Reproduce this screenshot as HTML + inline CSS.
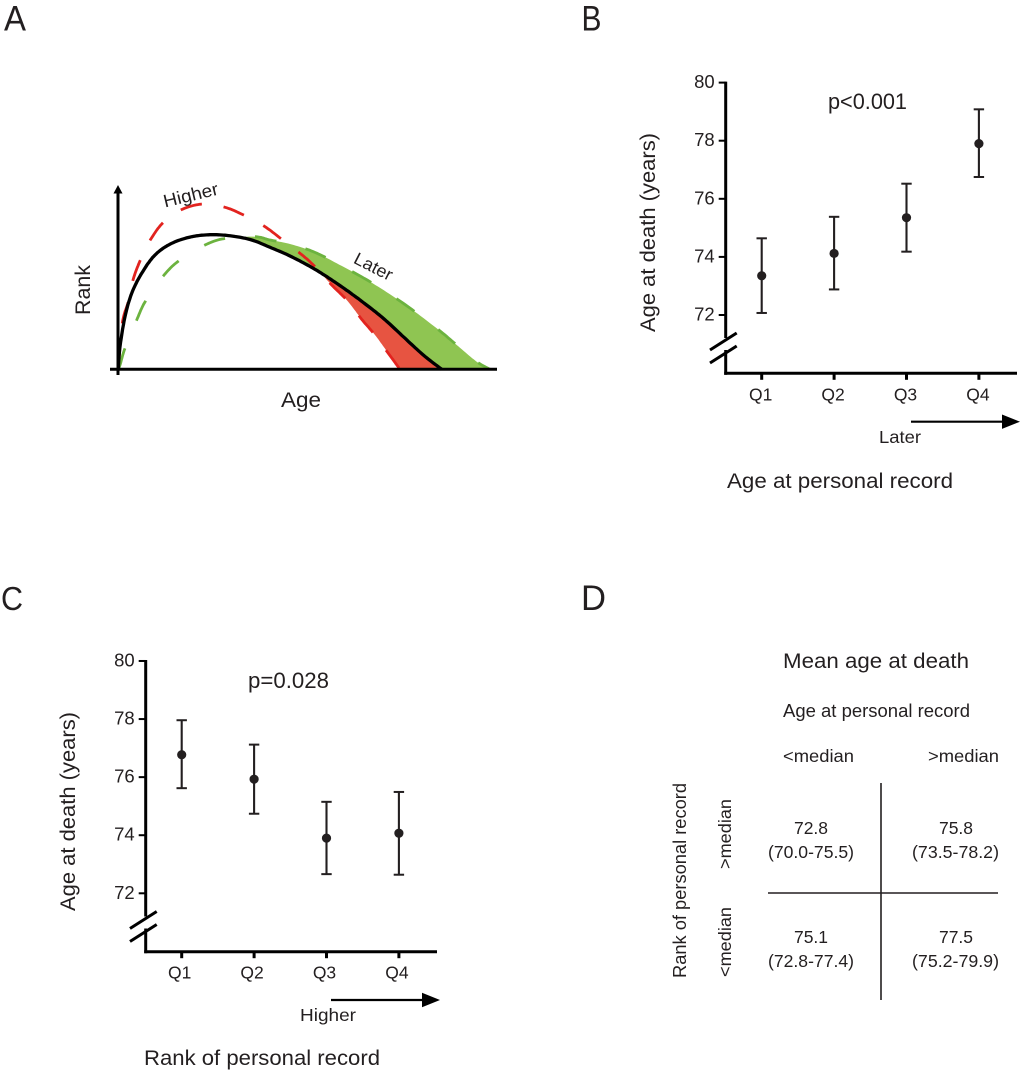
<!DOCTYPE html>
<html lang="en">
<head>
<meta charset="utf-8">
<title>Age at personal record, rank and age at death</title>
<style>
html,body{margin:0;padding:0;background:#fff;width:1020px;height:1072px;overflow:hidden}
svg{display:block}
text{font-family:"Liberation Sans",sans-serif;fill:#231f20}
</style>
</head>
<body>
<svg id="figure" xmlns="http://www.w3.org/2000/svg" width="1020" height="1072" viewBox="0 0 1020 1072">
  <rect width="1020" height="1072" fill="#fff"/>

  <text x="4" y="30.5" font-size="35" textLength="22" lengthAdjust="spacingAndGlyphs">A</text>
  <text x="581.5" y="30.5" font-size="35" textLength="20" lengthAdjust="spacingAndGlyphs">B</text>
  <text x="1" y="610" font-size="33" textLength="22" lengthAdjust="spacingAndGlyphs">C</text>
  <text x="581" y="610" font-size="35" textLength="25" lengthAdjust="spacingAndGlyphs">D</text>

  <g id="panel-a"></g>
  <text transform="translate(90 315) rotate(-90)" font-size="21" textLength="50" lengthAdjust="spacingAndGlyphs">Rank</text>
  <text x="281" y="407" font-size="21" textLength="40" lengthAdjust="spacingAndGlyphs">Age</text>
  <text transform="translate(165 207.5) rotate(-13.6)" font-size="18" textLength="56" lengthAdjust="spacingAndGlyphs">Higher</text>
  <text transform="translate(352.5 262.5) rotate(27)" font-size="17.5" textLength="41" lengthAdjust="spacingAndGlyphs">Later</text>

  <g id="panel-b"></g>
  <text transform="translate(655 332) rotate(-90)" font-size="21" textLength="199" lengthAdjust="spacingAndGlyphs">Age at death (years)</text>
  <text x="828" y="109" font-size="22" textLength="79" lengthAdjust="spacingAndGlyphs">p&lt;0.001</text>
  <text x="879" y="443" font-size="17.5" textLength="42" lengthAdjust="spacingAndGlyphs">Later</text>
  <text x="727" y="488" font-size="21.5" textLength="226" lengthAdjust="spacingAndGlyphs">Age at personal record</text>
  <line x1="911" y1="421.7" x2="1004" y2="421.7" stroke="#000" stroke-width="2.2"/>
  <polygon points="1002,414.5 1020,421.7 1002,428.9" fill="#000"/>

  <g id="panel-c"></g>
  <text transform="translate(75 911) rotate(-90)" font-size="21" textLength="199" lengthAdjust="spacingAndGlyphs">Age at death (years)</text>
  <text x="248" y="688" font-size="22" textLength="81" lengthAdjust="spacingAndGlyphs">p=0.028</text>
  <text x="300" y="1021" font-size="17.5" textLength="56" lengthAdjust="spacingAndGlyphs">Higher</text>
  <text x="144" y="1065" font-size="21.5" textLength="236" lengthAdjust="spacingAndGlyphs">Rank of personal record</text>
  <line x1="331" y1="1000" x2="424" y2="1000" stroke="#000" stroke-width="2.2"/>
  <polygon points="422,992.8 440,1000 422,1007.2" fill="#000"/>

  <g>
    <text x="783" y="668" font-size="21.5" textLength="186" lengthAdjust="spacingAndGlyphs">Mean age at death</text>
    <text x="783" y="717" font-size="18.5" textLength="187" lengthAdjust="spacingAndGlyphs">Age at personal record</text>
    <text x="783" y="762" font-size="17.5" textLength="71" lengthAdjust="spacingAndGlyphs">&lt;median</text>
    <text x="928" y="762" font-size="17.5" textLength="71" lengthAdjust="spacingAndGlyphs">&gt;median</text>
    <text transform="translate(686 978) rotate(-90)" font-size="18.5" textLength="195" lengthAdjust="spacingAndGlyphs">Rank of personal record</text>
    <text transform="translate(731 869) rotate(-90)" font-size="17.5" textLength="70" lengthAdjust="spacingAndGlyphs">&gt;median</text>
    <text transform="translate(731 977) rotate(-90)" font-size="17.5" textLength="70" lengthAdjust="spacingAndGlyphs">&lt;median</text>
    <line x1="881" y1="783" x2="881" y2="1000" stroke="#231f20" stroke-width="1.6"/>
    <line x1="768" y1="893" x2="998" y2="893" stroke="#231f20" stroke-width="1.6"/>
    <text x="811" y="834" font-size="17.5" text-anchor="middle">72.8</text>
    <text x="768" y="858" font-size="17.5" textLength="86" lengthAdjust="spacingAndGlyphs">(70.0-75.5)</text>
    <text x="956" y="834" font-size="17.5" text-anchor="middle">75.8</text>
    <text x="912" y="858" font-size="17.5" textLength="87" lengthAdjust="spacingAndGlyphs">(73.5-78.2)</text>
    <text x="811" y="943" font-size="17.5" text-anchor="middle">75.1</text>
    <text x="768" y="967" font-size="17.5" textLength="86" lengthAdjust="spacingAndGlyphs">(72.8-77.4)</text>
    <text x="956" y="943" font-size="17.5" text-anchor="middle">77.5</text>
    <text x="912" y="967" font-size="17.5" textLength="87" lengthAdjust="spacingAndGlyphs">(75.2-79.9)</text>
  </g>
</svg>

<script>
// Shared axis data
const tickValues = [72, 74, 76, 78, 80];
const quartileLabels = ['Q1', 'Q2', 'Q3', 'Q4'];

// Panel B: age at death by quartile of age at personal record
const meanB = [73.35, 74.12, 75.35, 77.9];
const lowerB = [72.07, 72.88, 74.18, 76.75];
const upperB = [74.64, 75.38, 76.52, 79.08];

// Panel C: age at death by quartile of rank of personal record
const meanC = [76.77, 75.93, 73.9, 74.07];
const lowerC = [75.62, 74.74, 72.66, 72.64];
const upperC = [77.96, 77.12, 75.15, 75.49];

// Panel A: schematic career curves (arbitrary age / rank units)
const baseAge = [0, 1.7, 6.7, 13.4, 23.4, 36.7, 53.4, 73.4, 93.4, 113.4, 133.4, 151.7, 171.7, 195, 218.4, 241.7, 265, 285, 305, 323.4];
const baseRank = [0, 22.6, 52.6, 76, 96, 114.3, 126, 132.6, 134.6, 133.3, 129.3, 122, 113.3, 101, 86, 69.3, 51, 32.6, 14.3, 0];
const higherAge = [0, 4, 10, 15, 22.4, 32.4, 45.7, 64, 85, 106.7, 127.4, 146.7, 164.4, 181.7, 195, 213.4, 228.4, 243.4, 256.7, 270, 281.7];
const higherRank = [0, 46, 67.6, 90.3, 110, 130, 147.6, 160, 165.3, 162, 153.3, 142.6, 129.3, 116, 104.3, 84.3, 69.3, 50, 34.3, 16, 0];
const laterAge = [0, 1.7, 6.7, 18.4, 27.4, 45, 60.7, 86.7, 107.4, 136.7, 151.7, 171.7, 195, 218.4, 251.7, 285, 318.4, 338.4, 358.4, 371.7];
const laterRank = [0, 4.3, 21, 49.3, 68.6, 93.3, 108.6, 124.3, 131, 132.6, 129.3, 125.3, 117.6, 106, 87.6, 66, 41, 24.3, 7.6, 0];

const NS = 'http://www.w3.org/2000/svg';
const ink = '#231f20';

function make(parent, tag, attrs, text) {
  const el = document.createElementNS(NS, tag);
  for (const k in attrs) el.setAttribute(k, attrs[k]);
  if (text !== undefined) el.textContent = text;
  parent.appendChild(el);
  return el;
}

function drawPanel(root, frame, means, lows, highs, prefix) {
  const yScale = v => frame.y72 - (v - 72) * frame.unit;
  const xScale = i => frame.xFirst + i * frame.step;
  const yTop = yScale(tickValues[tickValues.length - 1]);

  const axisStyle = { stroke: '#000', 'stroke-width': 3, fill: 'none' };
  const upperAxis = make(root, 'line', Object.assign({ x1: frame.axisX, x2: frame.axisX, y1: yTop - 1, y2: frame.breakTop }, axisStyle));
  
  
  const lowerAxis = make(root, 'line', Object.assign({ x1: frame.axisX, x2: frame.axisX, y1: frame.breakBottom, y2: frame.baseY + 1.5 }, axisStyle));
  
  
  const xAxis = make(root, 'line', Object.assign({ x1: frame.axisX - 1.5, x2: frame.axisEnd, y1: frame.baseY, y2: frame.baseY }, axisStyle));
  
  

  [0, 13].forEach(offset => {
    const slash = make(root, 'line', Object.assign({
      x1: frame.axisX - 15.7, y1: frame.breakTop + 12 + offset,
      x2: frame.axisX + 11, y2: frame.breakTop - 5 + offset
    }, axisStyle));
    
    
  });

  tickValues.forEach(v => {
    const tick = make(root, 'line', { x1: frame.axisX - 7, x2: frame.axisX, y1: yScale(v), y2: yScale(v), stroke: '#000', 'stroke-width': 2 });
    
    
    const label = make(root, 'text', { x: frame.axisX - 11, y: yScale(v) + 5.5, 'font-size': 18.5, 'text-anchor': 'end' }, String(v));
    
    
  });

  quartileLabels.forEach((q, i) => {
    const x = xScale(i);
    const tick = make(root, 'line', { x1: x, x2: x, y1: frame.baseY, y2: frame.baseY + 6.5, stroke: '#000', 'stroke-width': 3 });
    
    
    const label = make(root, 'text', { x: x - frame.labelShift, y: frame.baseY + 27, 'font-size': 17.5, 'text-anchor': 'middle' }, q);
    
    

    const stem = make(root, 'line', { x1: x, x2: x, y1: yScale(highs[i]), y2: yScale(lows[i]), stroke: ink, 'stroke-width': 2.1 });
    
    
    const capTop = make(root, 'line', { x1: x - 5.2, x2: x + 5.2, y1: yScale(highs[i]), y2: yScale(highs[i]), stroke: ink, 'stroke-width': 2 });
    
    
    const capBottom = make(root, 'line', { x1: x - 5.2, x2: x + 5.2, y1: yScale(lows[i]), y2: yScale(lows[i]), stroke: ink, 'stroke-width': 2 });
    
    
    const dot = make(root, 'circle', { cx: x, cy: yScale(means[i]), r: 4.6, fill: ink });
    
    
  });
}

drawPanel(document.getElementById('panel-b'),
  { axisX: 725.7, axisEnd: 1017, baseY: 373.3, y72: 315, unit: 29.05, xFirst: 761.7, step: 72.4, breakTop: 338, breakBottom: 350, labelShift: 1 },
  meanB, lowerB, upperB, 'panel-b');
drawPanel(document.getElementById('panel-c'),
  { axisX: 145.7, axisEnd: 437, baseY: 951.7, y72: 893.3, unit: 29.04, xFirst: 181.7, step: 72.4, breakTop: 916.5, breakBottom: 928.5, labelShift: 2 },
  meanC, lowerC, upperC, 'panel-c');

// Panel A schematic
const ageScale = a => 118.3 + a;
const rankScale = r => 369.3 - r;

function curvePoints(ages, ranks) {
  const pts = ages.map((a, i) => [ageScale(a), rankScale(ranks[i])]);
  const out = [];
  for (let i = 0; i < pts.length - 1; i++) {
    const p0 = pts[Math.max(i - 1, 0)], p1 = pts[i], p2 = pts[i + 1], p3 = pts[Math.min(i + 2, pts.length - 1)];
    for (let s = 0; s < 12; s++) {
      const t = s / 12, t2 = t * t, t3 = t2 * t;
      out.push([
        0.5 * (2 * p1[0] + (p2[0] - p0[0]) * t + (2 * p0[0] - 5 * p1[0] + 4 * p2[0] - p3[0]) * t2 + (3 * p1[0] - p0[0] - 3 * p2[0] + p3[0]) * t3),
        0.5 * (2 * p1[1] + (p2[1] - p0[1]) * t + (2 * p0[1] - 5 * p1[1] + 4 * p2[1] - p3[1]) * t2 + (3 * p1[1] - p0[1] - 3 * p2[1] + p3[1]) * t3)
      ]);
    }
  }
  out.push(pts[pts.length - 1]);
  return out;
}
const toPath = pts => 'M' + pts.map(p => p[0].toFixed(1) + ' ' + p[1].toFixed(1)).join('L');

const panelA = document.getElementById('panel-a');
const baseCurve = curvePoints(baseAge, baseRank);
const higherCurve = curvePoints(higherAge, higherRank);
const laterCurve = curvePoints(laterAge, laterRank);

function gapArea(outer, splitAge) {
  const sx = ageScale(splitAge);
  const a = outer.filter(p => p[0] >= sx);
  const b = baseCurve.filter(p => p[0] >= sx).reverse();
  return toPath(a.concat(b)) + 'Z';
}

const laterArea = make(panelA, 'path', { d: gapArea(laterCurve, 125), fill: '#8fc552' });


const higherArea = make(panelA, 'path', { d: gapArea(higherCurve, 205), fill: '#e75441' });



const higherLine = make(panelA, 'path', { d: toPath(higherCurve), fill: 'none', stroke: '#e2231f', 'stroke-width': 2.8, 'stroke-dasharray': '22 22', 'stroke-dashoffset': '-2' });


const laterLine = make(panelA, 'path', { d: toPath(laterCurve), fill: 'none', stroke: '#6cb33f', 'stroke-width': 2.8, 'stroke-dasharray': '22 30', 'stroke-dashoffset': '0' });


const baseLine = make(panelA, 'path', { d: toPath(baseCurve), fill: 'none', stroke: '#000', 'stroke-width': 3.3 });



const rankAxis = make(panelA, 'line', { x1: 118, x2: 118, y1: 190, y2: 375, stroke: '#000', 'stroke-width': 3 });


const rankArrow = make(panelA, 'polygon', { points: '118,185 122.5,193.5 113.5,193.5', fill: '#000' });


const ageAxis = make(panelA, 'line', { x1: 110, x2: 497, y1: 369.3, y2: 369.3, stroke: '#000', 'stroke-width': 3 });


</script>
</body>
</html>
